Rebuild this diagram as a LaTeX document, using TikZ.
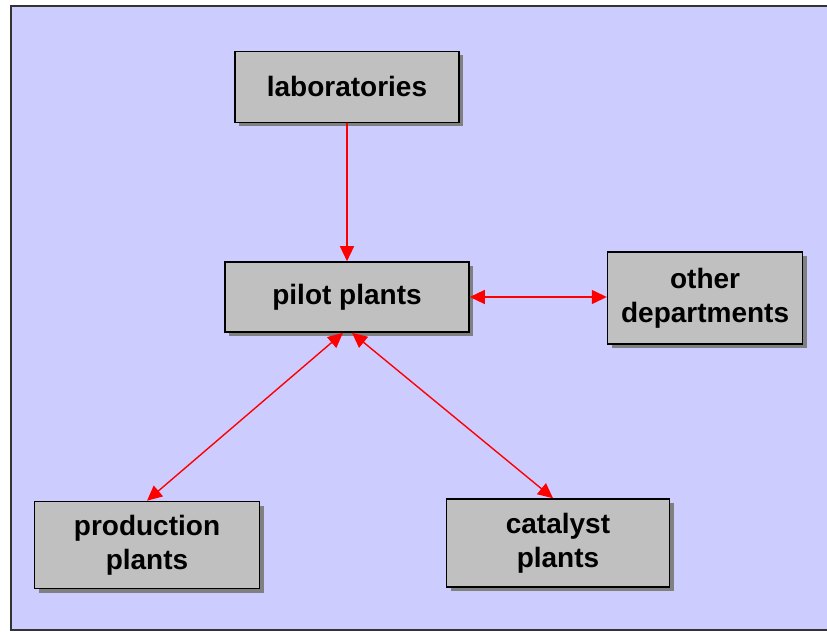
\documentclass[tikz,border=0pt]{standalone}
\usepackage{fontspec}
\setmainfont{Liberation Sans}
\usepackage{tikz}
\usetikzlibrary{arrows.meta, positioning, shadows}
\definecolor{panel}{HTML}{CCCCFF}
\definecolor{boxgray}{HTML}{C0C0C0}
\tikzset{
    unit/.style={rectangle, draw=black, line width=0.8pt, fill=boxgray, align=center, font=\bfseries\fontsize{14}{17}\selectfont,
        drop shadow={shadow xshift=2pt, shadow yshift=-2pt, fill=black!50, opacity=1}},
    flow/.style={draw=red, line width=0.7pt, -{Triangle[length=7.5pt,width=7pt]}},
    twoway/.style={draw=red, line width=0.7pt, {Triangle[length=7.5pt,width=7pt]}-{Triangle[length=7.5pt,width=7pt]}}
}

\begin{document}
\begin{tikzpicture}[x=0.5pt, y=-0.5pt]

    \useasboundingbox (0,0) rectangle (827,632);
    \fill[white] (0,0) rectangle (827,632);

    % Background panel
    \draw[fill=panel, draw=black!80, line width=0.9pt] (11,6) rectangle (840,630);

    % Pilot plants
    \node (pilot) [unit, minimum width=122pt, minimum height=35pt] at (347,297) {pilot plants};

    % Laboratories
    \node (lab) [unit, minimum width=112pt, minimum height=35.5pt, above=69pt of pilot] {laboratories};

    % Other departments
    \node (other) [unit, minimum width=97.5pt, minimum height=46pt, right=68.5pt of pilot, yshift=-0.5pt] {other\\departments};

    % Production plants
    \node (production) [unit, minimum width=112.5pt, minimum height=43.5pt] at (147,545) {production\\plants};

    % Catalyst plants
    \node (catalyst) [unit, minimum width=111.5pt, minimum height=44pt] at (558,543) {catalyst\\plants};

    % Links
    \draw [flow] (lab.south) -- (lab.south |- pilot.north);
    \draw [twoway] (pilot.east) -- (pilot.east -| other.west);
    \draw [twoway] ([xshift=-2pt]pilot.south) -- (production.north);
    \draw [twoway] ([xshift=2.5pt]pilot.south) -- ([xshift=-2.5pt]catalyst.north);

\end{tikzpicture}
\end{document}
